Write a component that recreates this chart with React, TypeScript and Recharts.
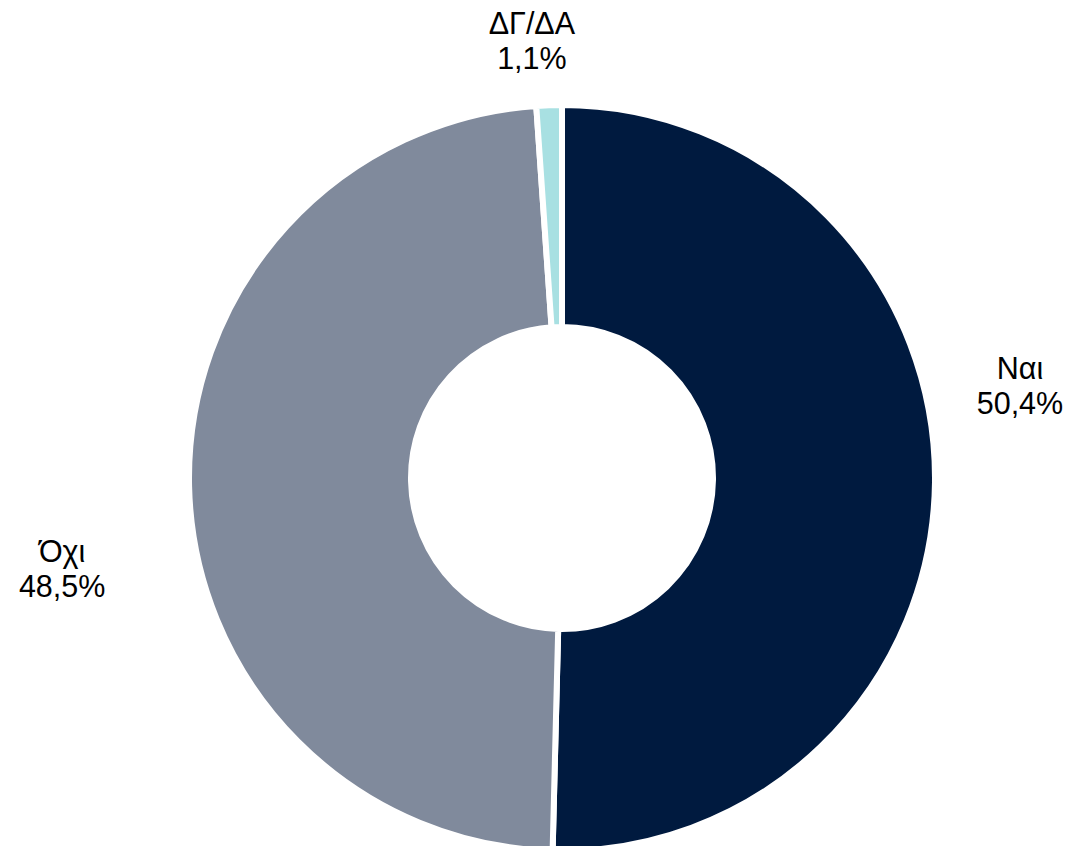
import { PieChart, Pie, Cell } from 'recharts';

const categories = ['Ναι', 'Όχι', 'ΔΓ/ΔΑ'];
const shares = [50.4, 48.5, 1.1];
const colors = ['#001A3F', '#808A9C', '#A8E0E2'];

// label placement tweaks relative to the slice's outer edge
const labelOffsets = [
  { r: 85, dx: 0, dy: -98 },
  { r: 127, dx: 0, dy: 80 },
  { r: 64, dx: -15, dy: 0 },
];

const data = categories.map((name, i) => ({ name, value: shares[i] }));

const RADIAN = Math.PI / 180;

const formatPct = (v: number) => `${v.toFixed(1).replace('.', ',')}%`;

function renderLabel(props: any) {
  const { cx, cy, midAngle, outerRadius, index } = props;
  const off = labelOffsets[index];
  const r = outerRadius + off.r;
  const x = cx + r * Math.cos(-midAngle * RADIAN) + off.dx;
  const y = cy + r * Math.sin(-midAngle * RADIAN) + off.dy;
  return (
    <text
      x={x}
      y={y - 7}
      textAnchor="middle"
      fill="#000"
      fontSize={30.5}
      fontFamily="'Liberation Sans', Arial, sans-serif"
    >
      <tspan x={x}>{categories[index]}</tspan>
      <tspan x={x} dy={35}>
        {formatPct(shares[index])}
      </tspan>
    </text>
  );
}

export default function App() {
  return (
    <div style={{ position: 'absolute', left: 0, top: 0, background: '#fff' }}>
      <PieChart width={1073} height={846} margin={{ top: 0, right: 0, bottom: 0, left: 0 }}>
        <Pie
          data={data}
          dataKey="value"
          nameKey="name"
          cx={562}
          cy={478}
          outerRadius={373}
          innerRadius={151}
          startAngle={90}
          endAngle={-270}
          stroke="#fff"
          strokeWidth={6}
          label={renderLabel}
          labelLine={false}
          isAnimationActive={false}
        >
          {data.map((d, i) => (
            <Cell key={d.name} fill={colors[i]} />
          ))}
        </Pie>
      </PieChart>
    </div>
  );
}
